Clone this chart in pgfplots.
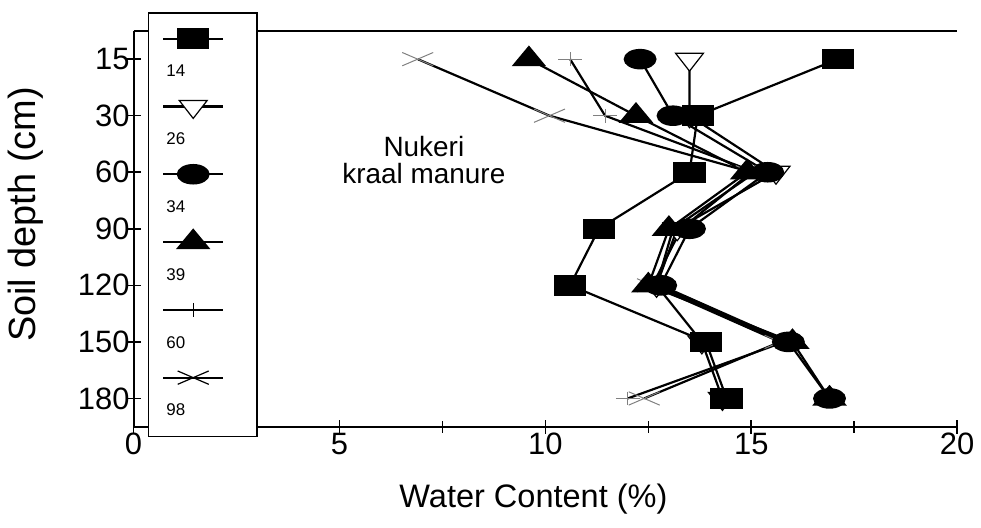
\documentclass[border=0pt]{standalone}
\usepackage{fontspec}
\setmainfont{Liberation Sans}
\usepackage{pgfplots}
\pgfplotsset{compat=1.18}
\pgfplotsset{
  myleg/.style 2 args={legend image code/.code={
     \path[draw=none,fill=none] (-7.5pt,13pt) rectangle (46pt,-#2);
     \draw[##1,mark repeat=2,mark phase=2] plot coordinates {(0pt,0pt) (15pt,0pt) (30pt,0pt)};
     \node[anchor=west,inner sep=0pt,draw=none,fill=none,font=\fontsize{8.5}{9}\selectfont] at (1pt,-17pt) {#1};
  }},
  sA/.style={black, line width=1.1pt, mark=square*, mark size=4.6pt, mark options={xscale=1.65}},
  sB/.style={black, line width=1.1pt, mark=triangle*, mark size=6pt, mark options={rotate=180, xscale=1.35, fill=white, draw=black, line width=0.6pt}},
  sC/.style={black, line width=1.1pt, mark=*, mark size=4.6pt, mark options={xscale=1.67}},
  sD/.style={black, line width=1.1pt, mark=triangle*, mark size=6pt, mark options={xscale=1.44}},
  sE/.style={black, line width=1.1pt, mark=+, mark size=6pt, mark options={yscale=0.58, line width=0.6pt}},
  sF/.style={black, line width=1.1pt, mark=x, mark size=11pt, mark options={yscale=0.43, line width=0.6pt}},
}
\begin{document}
\begin{tikzpicture}
\begin{axis}[
  width=413pt, height=198.5pt, scale only axis,
  xmin=0, xmax=20, ymin=-0.5, ymax=6.5, y dir=reverse,
  axis x line=box, axis y line=left,
  axis line style={-, line width=1pt},
  xtick={0,5,10,15,20}, minor xtick={2.5,7.5,12.5,17.5},
  ytick={0,1,2,3,4,5,6}, yticklabels={15,30,60,90,120,150,180},
  xtick pos=left,
  tick align=center, major tick length=7pt, minor tick length=6pt,
  tick style={line width=0.8pt, black},
  /pgf/number format/assume math mode=true,
  tick label style={font=\fontsize{15.5}{17}\selectfont},
  xticklabel style={yshift=4pt},
  yticklabel style={xshift=5pt},
  xlabel={Water Content (\%)}, ylabel={Soil depth (cm)},
  xlabel style={font=\fontsize{16.3}{18}\selectfont, at={(axis description cs:0.4855,-0.184)}, anchor=center},
  ylabel style={font=\fontsize{19}{21}\selectfont, at={(axis description cs:-0.1308,0.536)}, anchor=center},
  clip=false,
  legend style={at={(0.01695,1.0479)}, anchor=north west, draw=black, line width=0.8pt, fill=white,
    inner sep=0pt, row sep=0pt, column sep=0pt, nodes={inner sep=0pt, draw=none}},
  legend cell align=left,
]
\addlegendimage{sA, myleg={14}{21pt}}\addlegendentry{\mbox{}}
\addlegendimage{sB, myleg={26}{21pt}}\addlegendentry{\mbox{}}
\addlegendimage{sC, myleg={34}{21pt}}\addlegendentry{\mbox{}}
\addlegendimage{sD, myleg={39}{21pt}}\addlegendentry{\mbox{}}
\addlegendimage{sE, myleg={60}{21pt}}\addlegendentry{\mbox{}}
\addlegendimage{sF, myleg={98}{29.5pt}}\addlegendentry{\mbox{}}
% series 98
\addplot[sF, forget plot, every mark/.append style={draw=gray, line width=0.5pt}] coordinates {(6.9,0) (10.1,1) (15.0,2) (13.3,3) (12.6,4) (15.7,5) (12.4,6)};
% series 60
\addplot[sE, forget plot, every mark/.append style={draw=gray, line width=0.5pt}] coordinates {(10.6,0) (11.45,1) (15.1,2) (13.1,3) (12.7,4) (15.8,5) (12.0,6)};
% series 26
\addplot[sB, forget plot] coordinates {(13.5,0) (13.5,1) (15.6,2) (13.2,3) (12.7,4) (13.8,5) (14.3,6)};
% series 39
\addplot[sD, forget plot] coordinates {(9.6,0) (12.2,1) (14.9,2) (13.0,3) (12.5,4) (16.0,5) (16.9,6)};
% series 34
\addplot[sC, forget plot] coordinates {(12.3,0) (13.1,1) (15.4,2) (13.5,3) (12.8,4) (15.9,5) (16.9,6)};
% series 14
\addplot[sA, forget plot] coordinates {(17.1,0) (13.7,1) (13.5,2) (11.3,3) (10.6,4) (13.9,5) (14.4,6)};
\node[align=center, font=\fontsize{14}{13.5}\selectfont] at (axis cs:7.05,1.79) {Nukeri\\kraal manure};
\path (axis description cs:-0.1622,-0.2544) rectangle (axis description cs:1.0254,1.078);
\end{axis}
\end{tikzpicture}
\end{document}
